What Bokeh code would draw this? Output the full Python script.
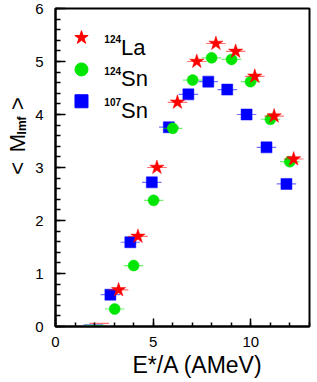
import numpy as np
from bokeh.plotting import figure
from bokeh.layouts import row
from bokeh.models import Range1d, FixedTicker, Label, ColumnDataSource, Title
from bokeh.embed import file_html
from bokeh.resources import INLINE

# ---- data ----
la_x = [2.24, 3.23, 4.22, 5.19, 6.24, 7.23, 8.21, 9.22, 10.2, 11.19, 12.19]
la_y = [0.06, 0.69, 1.70, 3.00, 4.23, 5.00, 5.34, 5.19, 4.72, 3.97, 3.16]
sn124_x = [2.00, 3.03, 4.00, 5.02, 6.00, 7.02, 7.99, 9.01, 9.98, 11.00, 11.99]
sn124_y = [0.02, 0.33, 1.15, 2.38, 3.74, 4.65, 5.07, 5.04, 4.62, 3.91, 3.11]
sn107_x = [1.94, 2.81, 3.83, 4.93, 5.80, 6.80, 7.82, 8.79, 9.78, 10.80, 11.82]
sn107_y = [0.03, 0.60, 1.59, 2.72, 3.76, 4.38, 4.62, 4.47, 4.00, 3.38, 2.69]
x_err = 0.5
x_major = [0, 5, 10]
x_minor = list(range(0, 14))
y_major = [0, 1, 2, 3, 4, 5, 6]
y_minor = [round(0.2 * i, 1) for i in range(31)]

FONT = "Liberation Sans"
RED, GREEN, BLUE = "#ff0000", "#00e600", "#0000ff"
H = 378
LW = 30  # width of the strip holding the y-axis title

p = figure(width=311 - LW, height=H, output_backend="svg", toolbar_location=None,
           x_range=Range1d(0, 13), y_range=Range1d(0, 6),
           min_border_left=55 - LW, min_border_right=2, min_border_top=8,
           min_border_bottom=52)
p.grid.visible = False
p.outline_line_color = "black"
p.outline_line_width = 2
p.background_fill_color = "white"
p.border_fill_color = "white"

for ax in (p.xaxis[0], p.yaxis[0]):
    ax.axis_line_width = 2
    ax.axis_line_color = "black"
    ax.major_tick_out = 0
    ax.minor_tick_out = 0
    ax.major_tick_line_color = "black"
    ax.minor_tick_line_color = "black"
    ax.major_tick_line_width = 1.5
    ax.minor_tick_line_width = 1.5
    ax.major_label_text_font = FONT
    ax.major_label_text_font_size = "15px"
    ax.major_label_text_color = "black"

p.xaxis.ticker = FixedTicker(ticks=x_major, minor_ticks=x_minor)
p.yaxis.ticker = FixedTicker(ticks=y_major, minor_ticks=y_minor)
p.xaxis.major_tick_in = 8
p.xaxis.minor_tick_in = 4
p.yaxis.major_tick_in = 10
p.yaxis.minor_tick_in = 5
p.xaxis.major_label_standoff = 10
p.yaxis.major_label_standoff = 12


def series(xs, ys, color, marker, size, alpha_err=0.55):
    xs = np.array(xs)
    ys = np.array(ys)
    p.segment(x0=xs - x_err, x1=xs + x_err, y0=ys, y1=ys,
              line_color=color, line_alpha=alpha_err, line_width=1.2)
    # the lowest point's marker is not shown in the reference (only its bar)
    src = ColumnDataSource(dict(x=xs[1:], y=ys[1:]))
    p.scatter("x", "y", source=src, marker=marker, size=size,
              fill_color=color, line_color=color, line_width=0.5)


series(sn107_x, sn107_y, BLUE, "square", 11)
series(sn124_x, sn124_y, GREEN, "circle", 11)
series(la_x, la_y, RED, "star", 15)

# ---- legend (hand-drawn like the original) ----
leg_y = [5.45, 4.85, 4.25]
p.scatter([1.33], [leg_y[0]], marker="star", size=14, fill_color=RED, line_color=RED)
p.scatter([1.33], [leg_y[1]], marker="circle", size=13, fill_color=GREEN, line_color=GREEN)
p.scatter([1.33], [leg_y[2]], marker="square", size=13, fill_color=BLUE, line_color=BLUE)
leg_sup = ["124", "124", "107"]
leg_main = ["La", "Sn", "Sn"]
for i in range(3):
    p.add_layout(Label(x=2.5, y=leg_y[i] - 0.02, text=leg_sup[i], text_font=FONT,
                       text_font_size="10px", text_font_style="bold",
                       text_baseline="alphabetic", text_color="black"))
    p.add_layout(Label(x=3.35, y=leg_y[i] - 0.18, text=leg_main[i], text_font=FONT,
                       text_font_size="22px", text_baseline="alphabetic",
                       text_color="black"))

# ---- x-axis title ----
p.add_layout(Title(text="E*/A (AMeV)", align="left", offset=77, standoff=0,
                   text_font=FONT, text_font_size="23px",
                   text_font_style="normal", text_color="black"), "below")

# ---- y-axis title strip (pixel coordinates, y from the top) ----
yl = figure(width=LW, height=H, output_backend="svg", toolbar_location=None,
            x_range=Range1d(0, LW), y_range=Range1d(H, 0),
            min_border_left=0, min_border_right=0, min_border_top=0,
            min_border_bottom=0, x_axis_location=None, y_axis_location=None)
yl.grid.visible = False
yl.outline_line_color = None
yl.background_fill_color = "white"
yl.border_fill_color = "white"

ang = np.pi / 2
def ytxt(x, y, text, size, bold=False):
    yl.add_layout(Label(x=x, y=y, text=text, angle=ang, text_font=FONT,
                        text_font_size=size,
                        text_font_style="bold" if bold else "normal",
                        text_align="center", text_baseline="alphabetic",
                        text_color="black"))

ytxt(17, 190, "<", "22px")
ytxt(17, 160, "M", "22px")
ytxt(21, 139, "Imf", "12px", bold=True)
ytxt(17, 113, ">", "22px")

open("out.html", "w").write(file_html(row(yl, p), INLINE))
